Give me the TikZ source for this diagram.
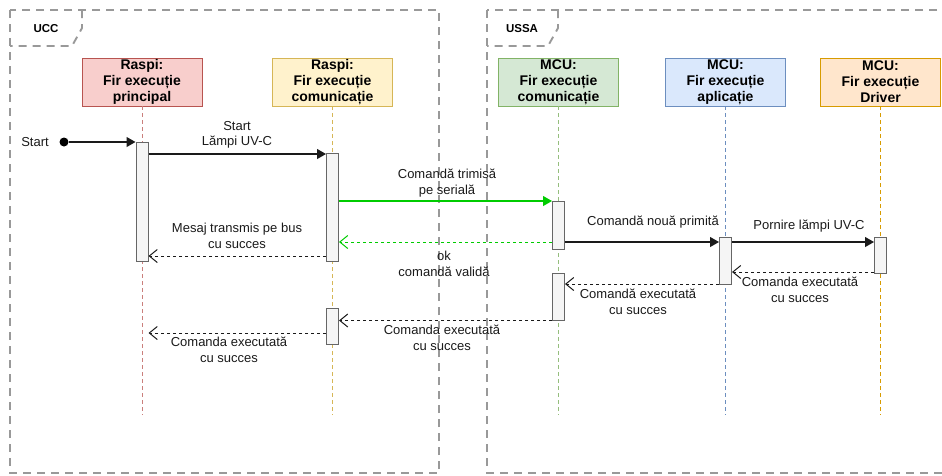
\documentclass[tikz,border=0pt]{standalone}
\usepackage{fontspec}
\setmainfont{Liberation Sans}
\usetikzlibrary{arrows.meta}

\definecolor{framegray}{HTML}{999999}
\definecolor{redfill}{HTML}{F8CECC}\definecolor{redline}{HTML}{B85450}
\definecolor{yelfill}{HTML}{FFF2CC}\definecolor{yelline}{HTML}{D6B656}
\definecolor{grnfill}{HTML}{D5E8D4}\definecolor{grnline}{HTML}{82B366}
\definecolor{blufill}{HTML}{DAE8FC}\definecolor{bluline}{HTML}{6C8EBF}
\definecolor{orgfill}{HTML}{FFE6CC}\definecolor{orgline}{HTML}{D79B00}
\definecolor{actfill}{HTML}{F5F5F5}\definecolor{actline}{HTML}{666666}
\definecolor{msggreen}{HTML}{00CC00}
\definecolor{msgdark}{HTML}{1A1A1A}

\begin{document}
\begin{tikzpicture}[x=1pt,y=-1pt,
  frame/.style={draw=framegray,line width=1.9pt,dash pattern=on 8pt off 6pt},
  framelabel/.style={font=\fontsize{11.5}{13}\selectfont\bfseries},
  header/.style={draw,line width=0.9pt,minimum width=120pt,minimum height=48pt,
    inner sep=0pt,align=center,font=\fontsize{14}{16}\selectfont\bfseries},
  lifeline/.style={line width=1pt,dash pattern=on 4pt off 3pt},
  actbox/.style={draw=actline,fill=actfill,line width=1pt,minimum width=12pt,inner sep=0pt},
  msg/.style={draw=msgdark,line width=1.1pt,-{Triangle[length=9pt,width=10pt]}},
  ret/.style={draw=msgdark,line width=1pt,dash pattern=on 3pt off 3pt,
    -{Straight Barb[length=8pt,width=13pt,line width=1pt]}},
  lbl/.style={align=center,font=\fontsize{13}{15.6}\selectfont,text=msgdark,inner sep=0pt}
]
\useasboundingbox (0,0) rectangle (942,475);
\begin{scope}
\clip (0,0) rectangle (942,475);

% system frames with their name tabs
\draw[frame] (10,10) rectangle (439,473);
\draw[frame] (82,10) -- (82,28) -- (72,46) -- (10,46);
\node[framelabel] (ucc) at (46,29) {UCC};

\draw[frame] (487,10) rectangle (970,473);
\draw[frame] (558,10) -- (558,28) -- (548,46) -- (487,46);
\node[framelabel] (ussa) at (522,29) {USSA};

% participant headers
\node[header,draw=redline,fill=redfill] (p1) at (142,82) {Raspi:\\Fir execuție\\principal};
\node[header,draw=yelline,fill=yelfill] (p2) at (332.5,82) {Raspi:\\Fir execuție\\comunicație};
\node[header,draw=grnline,fill=grnfill] (p3) at (558.5,82) {MCU:\\Fir execuție\\comunicație};
\node[header,draw=bluline,fill=blufill] (p4) at (725.5,82) {MCU:\\Fir execuție\\aplicație};
\node[header,draw=orgline,fill=orgfill] (p5) at (880.5,82) {MCU:\\Fir execuție\\Driver};

% lifeline ends
\coordinate (e1) at (142,415);
\coordinate (e2) at (332.5,415);
\coordinate (e3) at (558.5,415);
\coordinate (e4) at (725.5,415);
\coordinate (e5) at (880.5,415);
\draw[lifeline,draw=redline!75] (p1.south) -- (e1);
\draw[lifeline,draw=yelline] (p2.south) -- (e2);
\draw[lifeline,draw=grnline!85] (p3.south) -- (e3);
\draw[lifeline,draw=bluline] (p4.south) -- (e4);
\draw[lifeline,draw=orgline] (p5.south) -- (e5);

% activation bars
\node[actbox,minimum height=119pt] (a1) at (142,201.5) {};
\node[actbox,minimum height=108pt] (a2) at (332.5,207) {};
\node[actbox,minimum height=36pt]  (a3) at (332.5,326) {};
\node[actbox,minimum height=48pt]  (b1) at (558.5,225) {};
\node[actbox,minimum height=47pt]  (b2) at (558.5,296.5) {};
\node[actbox,minimum height=47pt]  (c1) at (725.5,260.5) {};
\node[actbox,minimum height=36pt]  (d1) at (880.5,255) {};

% message levels
\coordinate (y0) at (0,142);
\coordinate (y1) at (0,154);
\coordinate (y2) at (0,201);
\coordinate (y3) at (0,242);
\coordinate (y4) at (0,256);
\coordinate (y5) at (0,272);
\coordinate (y6) at (0,284);
\coordinate (y7) at (0,320.5);
\coordinate (y8) at (0,333);

% start point
\node[circle,fill=black,minimum size=9pt,inner sep=0pt] (s0) at (64,142) {};
\node[lbl] (slbl) at (35,142) {Start};
\draw[msg] (s0) -- (a1.west |- y0);

% messages
\draw[msg] (a1.east |- y1) -- (a2.west |- y1);
\node[lbl] (l1) at (237,135) {Start\\Lămpi UV-C};

\draw[msg,draw=msggreen,color=msggreen] (a2.east |- y2) -- (b1.west |- y2);
\node[lbl] (l2) at (447,183) {Comandă trimisă\\pe serială};

\draw[ret,draw=msggreen] (b1.west |- y3) -- (a2.east |- y3);
\node[lbl] (l3) at (444,264) {ok\\comandă validă};

\draw[ret] (a2.west |- y4) -- (a1.east |- y4);
\node[lbl] (l4) at (237,236) {Mesaj transmis pe bus\\cu succes};

\draw[msg] (b1.east |- y3) -- (c1.west |- y3);
\node[lbl] (l5) at (653,222) {Comandă nouă primită};

\draw[msg] (c1.east |- y3) -- (d1.west |- y3);
\node[lbl] (l6) at (809,226) {Pornire lămpi UV-C};

\draw[ret] (d1.west |- y5) -- (c1.east |- y5);
\node[lbl] (l7) at (800,290) {Comanda executată\\cu succes};

\draw[ret] (c1.west |- y6) -- (b2.east |- y6);
\node[lbl] (l8) at (638,302) {Comandă executată\\cu succes};

\draw[ret] (b2.west |- y7) -- (a3.east |- y7);
\node[lbl] (l9) at (442,338) {Comanda executată\\cu succes};

\draw[ret] (a3.west |- y8) -- (a1.east |- y8);
\node[lbl] (l10) at (229,350) {Comanda executată\\cu succes};
\end{scope}
\end{tikzpicture}
\end{document}
